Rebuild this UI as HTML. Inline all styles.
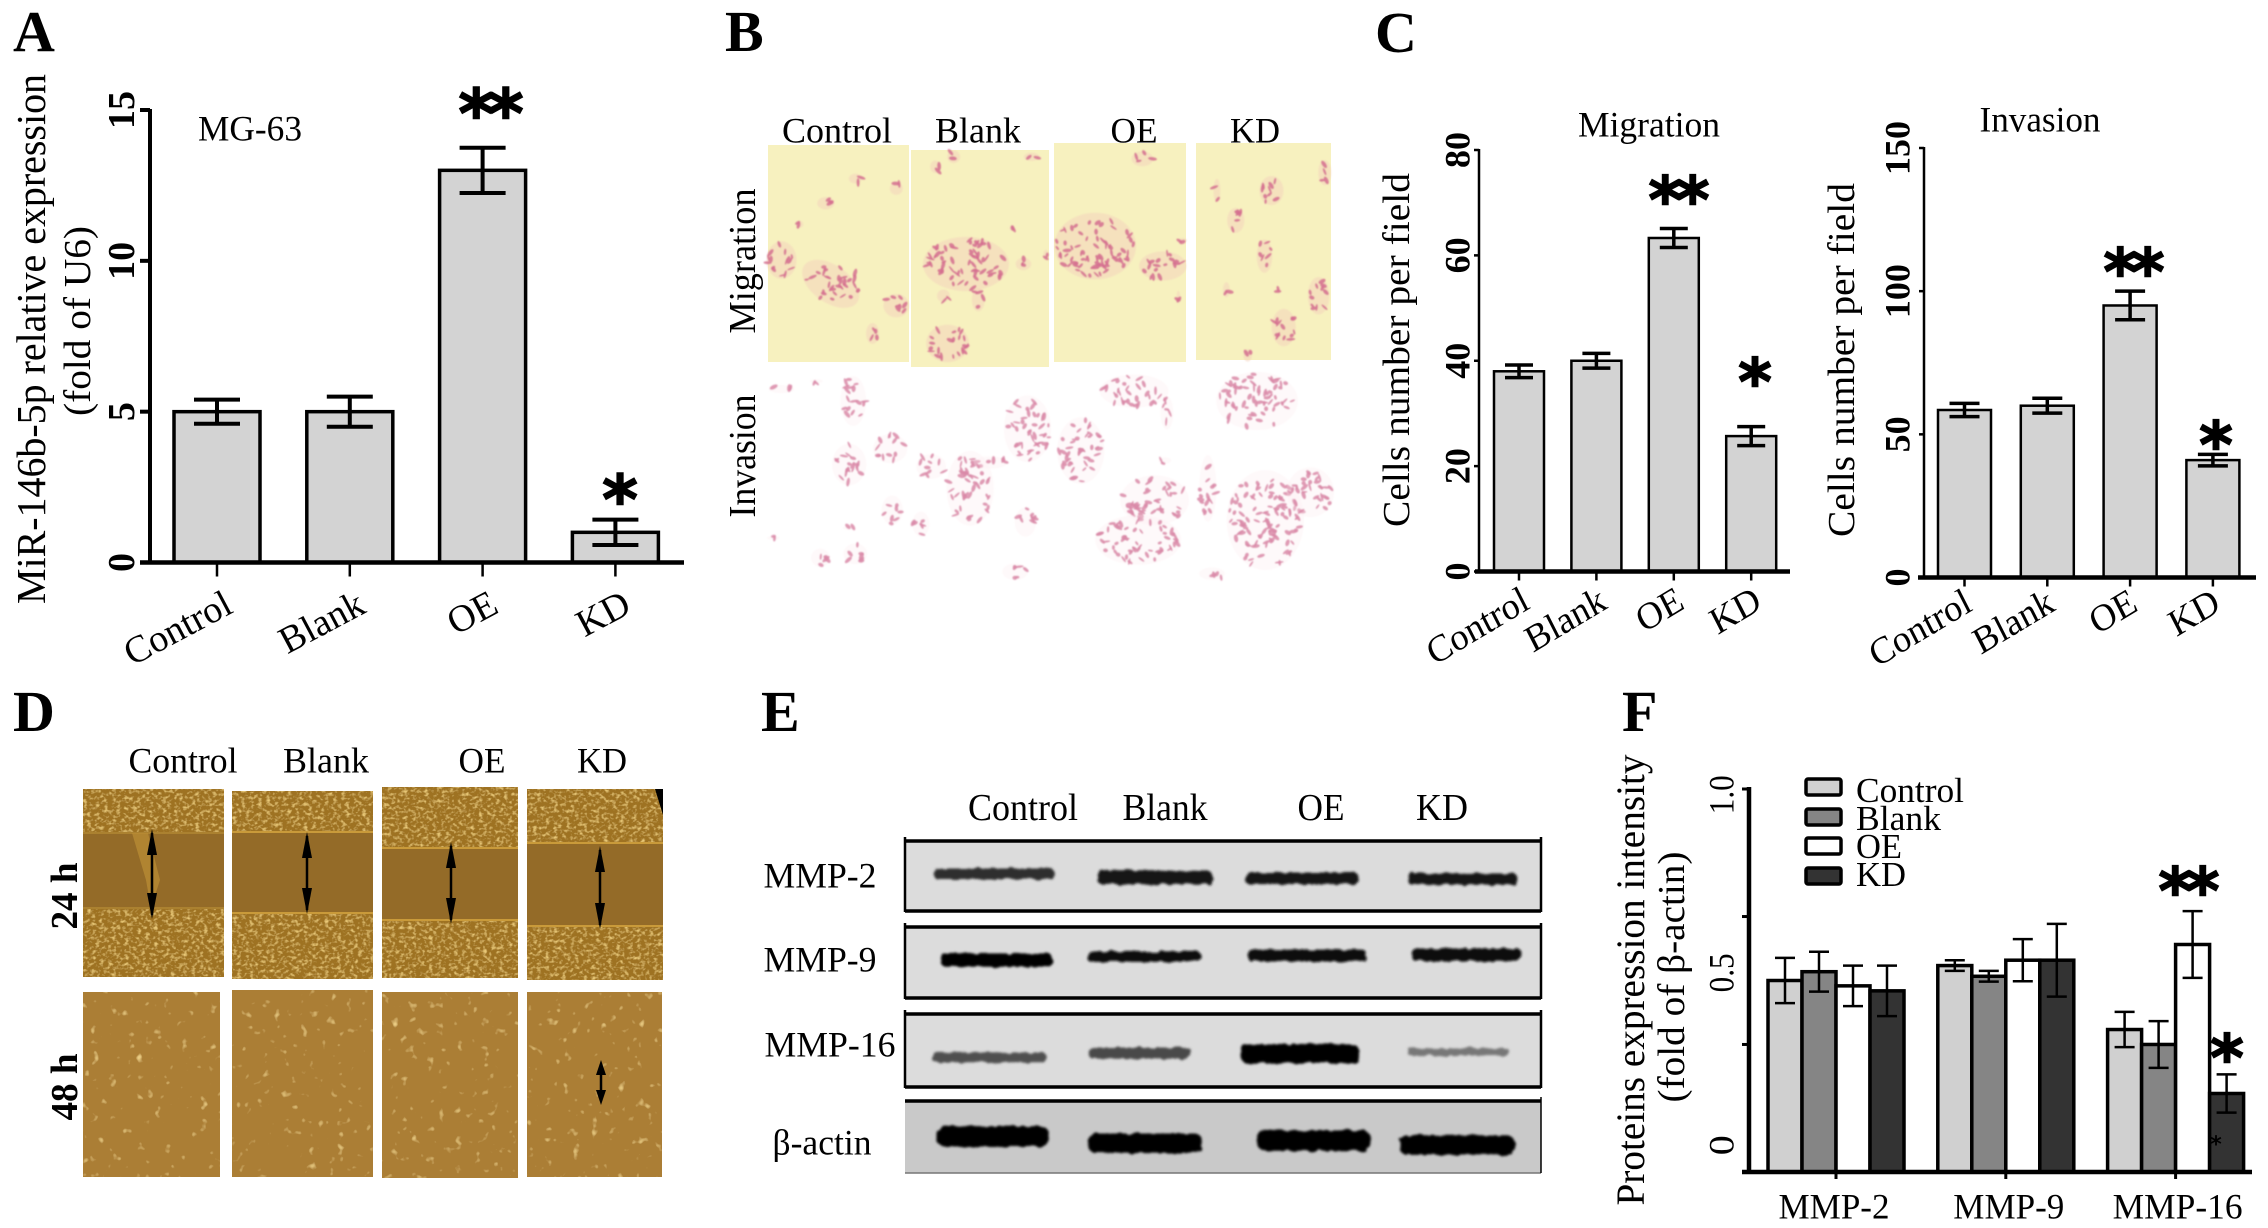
<!DOCTYPE html>
<html lang="en">
<head>
<meta charset="utf-8">
<title>miR-146b-5p figure panels</title>
<style>
html,body{margin:0;padding:0;background:#fff;width:2268px;height:1228px;overflow:hidden}
svg{display:block}
text{font-family:"Liberation Serif","DejaVu Serif",serif;fill:#000}
</style>
</head>
<body>
<svg id="figure" xmlns="http://www.w3.org/2000/svg" width="2268" height="1228" viewBox="0 0 2268 1228">
  <defs>
    <filter id="speckle" x="0" y="0" width="100%" height="100%">
      <feTurbulence type="fractalNoise" baseFrequency="0.24 0.3" numOctaves="2" seed="4" result="n"/>
      <feColorMatrix in="n" type="matrix" values="0 0 0 0 0.82  0 0 0 0 0.58  0 0 0 0 0.18  2.8 0 0 0 -1.35" result="spots"/>
      <feComposite in="spots" in2="SourceGraphic" operator="in" result="clipped"/>
      <feMerge><feMergeNode in="SourceGraphic"/><feMergeNode in="clipped"/></feMerge>
    </filter>
    <filter id="speckle-soft" x="0" y="0" width="100%" height="100%">
      <feTurbulence type="fractalNoise" baseFrequency="0.11" numOctaves="2" seed="9" result="n"/>
      <feColorMatrix in="n" type="matrix" values="0 0 0 0 0.82  0 0 0 0 0.6  0 0 0 0 0.22  4.5 0 0 0 -3" result="spots"/>
      <feComposite in="spots" in2="SourceGraphic" operator="in" result="clipped"/>
      <feMerge><feMergeNode in="SourceGraphic"/><feMergeNode in="clipped"/></feMerge>
    </filter>
    <filter id="band-blur" x="-10%" y="-60%" width="120%" height="220%">
      <feTurbulence type="fractalNoise" baseFrequency="0.12" numOctaves="2" seed="3" result="n"/>
      <feDisplacementMap in="SourceGraphic" in2="n" scale="5" result="d"/>
      <feGaussianBlur in="d" stdDeviation="1.4"/>
    </filter>
    <filter id="cell-blur" x="-20%" y="-20%" width="140%" height="140%"><feGaussianBlur stdDeviation="0.8"/></filter>
  </defs>
</svg>
<script>
/* ---------- chart data ---------- */
const categories = ['Control', 'Blank', 'OE', 'KD'];

const aValues = [5, 5, 13, 1];
const aErrors = [0.4, 0.5, 0.75, 0.42];
const aTicks = [0, 5, 10, 15];

const migrationValues = [38, 40, 63.3, 25.7];
const migrationErrors = [1.2, 1.4, 1.8, 1.8];
const migrationTicks = [0, 20, 40, 60, 80];

const invasionValues = [58.5, 60, 95, 41];
const invasionErrors = [2.3, 2.6, 5, 2];
const invasionTicks = [0, 50, 100, 150];

const proteinGroups = ['MMP-2', 'MMP-9', 'MMP-16'];
const proteinControl = [0.5, 0.539, 0.372];
const proteinBlank = [0.523, 0.511, 0.333];
const proteinOE = [0.486, 0.553, 0.594];
const proteinKD = [0.473, 0.553, 0.205];
const proteinControlErr = [0.059, 0.014, 0.046];
const proteinBlankErr = [0.052, 0.014, 0.061];
const proteinOEErr = [0.053, 0.055, 0.087];
const proteinKDErr = [0.066, 0.095, 0.05];
const proteinTickMarks = [0, 0.333, 0.667, 1];
const proteinTickLabels = ['0', '0.5', '1.0'];
const proteinTickLabelValues = [0.07, 0.52, 0.985];

/* ---------- helpers ---------- */
const NS = 'http://www.w3.org/2000/svg';
const root = document.getElementById('figure');

function mk(tag, attrs, name, parent) {
  const el = document.createElementNS(NS, tag);
  for (const k in attrs) el.setAttribute(k, attrs[k]);
  
  
  (parent || root).appendChild(el);
  return el;
}
function group(name, parent) { return mk('g', {}, name, parent); }

function label(str, cx, cy, fs, name, parent, o) {
  o = o || {};
  const a = {
    transform: 'translate(' + cx + ' ' + cy + ') rotate(' + (o.rot || 0) + ')',
    x: 0, y: (fs * 0.32).toFixed(1),
    'font-size': fs,
    'text-anchor': o.anchor || 'middle'
  };
  if (o.bold) a['font-weight'] = 'bold';
  if (o.skew) a.transform += ' skewX(' + o.skew + ')';
  if (o.len) { a.textLength = o.len; a.lengthAdjust = 'spacingAndGlyphs'; }
  if (o.fill) a.style = 'fill:' + o.fill;
  const t = mk('text', a, name, parent);
  t.textContent = str;
  return t;
}
function stars(str, cx, cy, fs, name, parent) {
  const t = mk('text', {
    x: cx, y: cy + fs * 0.52, 'font-size': fs, 'text-anchor': 'middle', 'font-weight': 'bold',
    stroke: '#000', 'stroke-width': fs > 30 ? 1.6 : 0,
    style: 'font-family:"DejaVu Sans",sans-serif;letter-spacing:-6px'
  }, name, parent);
  t.textContent = str;
}
function line(x1, y1, x2, y2, w, name, parent) {
  return mk('line', { x1, y1, x2, y2, stroke: '#000', 'stroke-width': w }, name, parent);
}
function panelLetter(ch, x, y) {
  const t = mk('text', { x, y, 'font-size': 58, 'font-weight': 'bold' }, 'panel-letter-' + ch.toLowerCase());
  t.textContent = ch;
}

/* ---------- single-series bar chart ---------- */
function barChart(c) {
  const g = group(c.name);
  const yS = v => c.y0 + (c.yTop - c.y0) * v / c.max;
  const xC = i => c.barStart + c.step * i + c.barW / 2;

  c.values.forEach((v, i) => {
    mk('rect', {
      x: xC(i) - c.barW / 2, y: yS(v), width: c.barW, height: c.y0 - yS(v),
      fill: '#d3d3d3', stroke: '#000', 'stroke-width': c.barStroke
    }, 'bar-' + categories[i].toLowerCase(), g);
    const e = c.errors[i];
    line(xC(i), yS(v + e), xC(i), yS(v - e), c.errW, 'error-stem-' + categories[i].toLowerCase(), g);
    line(xC(i) - c.cap, yS(v + e), xC(i) + c.cap, yS(v + e), c.errW, 'error-cap-high-' + categories[i].toLowerCase(), g);
    line(xC(i) - c.cap, yS(v - e), xC(i) + c.cap, yS(v - e), c.errW, 'error-cap-low-' + categories[i].toLowerCase(), g);
    line(xC(i), c.y0, xC(i), c.y0 + c.tickLen + 4, 2.5, 'x-tick-' + categories[i].toLowerCase(), g);
    label(categories[i], xC(i) + c.labDx, c.labY, c.labFs, 'x-label-' + categories[i].toLowerCase(), g, { rot: c.labRot, anchor: 'end', skew: c.labSkew });
  });

  line(c.axisX, c.yTop - 1, c.axisX, c.y0 + 2, c.axisW, 'y-axis', g);
  line(c.baseX1, c.y0, c.baseX2, c.y0, c.baseW, 'x-axis', g);
  c.ticks.forEach(t => {
    line(c.axisX - c.tickLen, yS(t), c.axisX, yS(t), c.axisW, 'y-tick-' + t, g);
    label(String(t), c.tickLabX, yS(t), c.tickFs, 'y-tick-label-' + t, g, { rot: -90, bold: true });
  });
  return { g, yS, xC };
}

/* ---------- Panel A ---------- */
panelLetter('A', 13, 51);
const chartA = barChart({
  name: 'chart-a-mir146b', values: aValues, errors: aErrors, ticks: aTicks, max: 15,
  y0: 562.5, yTop: 110, axisX: 150, axisW: 4, baseX1: 140, baseX2: 684, baseW: 4.5,
  barStart: 174, step: 132.8, barW: 86, barStroke: 3.5, errW: 4, cap: 23, tickLen: 10,
  tickLabX: 122, tickFs: 38, labDx: 12, labY: 601, labFs: 38, labRot: -28, labSkew: 0
});
label('MiR-146b-5p relative expression', 32, 339, 41, 'y-axis-title-a', chartA.g, { rot: -90, len: 530 });
label('(fold of U6)', 78, 321, 38, 'y-axis-subtitle-a', chartA.g, { rot: -90, len: 190 });
label('MG-63', 250, 129, 36, 'cell-line-label', chartA.g, { len: 104 });
stars('**', 488, 102, 68, 'significance-oe-a', chartA.g);
stars('*', 617, 488, 68, 'significance-kd-a', chartA.g);

/* ---------- Panel C ---------- */
panelLetter('C', 1375, 52);
const chartM = barChart({
  name: 'chart-c-migration', values: migrationValues, errors: migrationErrors, ticks: migrationTicks, max: 80,
  y0: 571.5, yTop: 150, axisX: 1479, axisW: 2.5, baseX1: 1475, baseX2: 1790, baseW: 4.5,
  barStart: 1494, step: 77.4, barW: 50, barStroke: 2.5, errW: 3.5, cap: 14, tickLen: 5,
  tickLabX: 1458, tickFs: 36, labDx: 7, labY: 597, labFs: 37, labRot: -31, labSkew: -4
});
label('Migration', 1649, 125, 36, 'chart-title-migration', chartM.g, { len: 142 });
label('Cells number per field', 1397, 350, 38, 'y-axis-title-migration', chartM.g, { rot: -90, len: 354 });
stars('**', 1676, 189, 64, 'significance-oe-migration', chartM.g);
stars('*', 1752, 371, 64, 'significance-kd-migration', chartM.g);

const chartI = barChart({
  name: 'chart-c-invasion', values: invasionValues, errors: invasionErrors, ticks: invasionTicks, max: 150,
  y0: 577.5, yTop: 148, axisX: 1924, axisW: 2.5, baseX1: 1918, baseX2: 2256, baseW: 4.5,
  barStart: 1938, step: 82.8, barW: 53, barStroke: 2.5, errW: 3.5, cap: 15, tickLen: 5,
  tickLabX: 1898, tickFs: 36, labDx: 4, labY: 599, labFs: 37, labRot: -31, labSkew: -4
});
label('Invasion', 2040, 120, 36, 'chart-title-invasion', chartI.g, { len: 121 });
label('Cells number per field', 1842, 360, 38, 'y-axis-title-invasion', chartI.g, { rot: -90, len: 354 });
stars('**', 2131, 261, 64, 'significance-oe-invasion', chartI.g);
stars('*', 2213, 434, 64, 'significance-kd-invasion', chartI.g);

/* ---------- Panel F ---------- */
panelLetter('F', 1622, 731);
(function () {
  const g = group('chart-f-proteins');
  const y0 = 1172, yTop = 789;
  const yS = v => y0 + (yTop - y0) * v;
  const gx = i => 1836 + 169.8 * i;
  const barW = 34;
  const series = [
    { name: 'control', vals: proteinControl, errs: proteinControlErr, fill: '#d0d0d0', label: 'Control' },
    { name: 'blank', vals: proteinBlank, errs: proteinBlankErr, fill: '#858585', label: 'Blank' },
    { name: 'oe', vals: proteinOE, errs: proteinOEErr, fill: '#ffffff', label: 'OE' },
    { name: 'kd', vals: proteinKD, errs: proteinKDErr, fill: '#333333', label: 'KD' }
  ];
  series.forEach((s, si) => {
    s.vals.forEach((v, i) => {
      const x = gx(i) + (si - 2) * barW;
      mk('rect', { x, y: yS(v), width: barW, height: y0 - yS(v), fill: s.fill, stroke: '#000', 'stroke-width': 3.5 },
        'bar-' + proteinGroups[i].toLowerCase() + '-' + s.name, g);
      const e = s.errs[i], cx = x + barW / 2;
      line(cx, yS(v + e), cx, yS(v - e), 2.5, 'error-stem-' + s.name, g);
      line(cx - 10, yS(v + e), cx + 10, yS(v + e), 2.5, 'error-cap-high-' + s.name, g);
      line(cx - 10, yS(v - e), cx + 10, yS(v - e), 2.5, 'error-cap-low-' + s.name, g);
    });
  });
  line(1749, yTop - 2, 1749, y0 + 2, 4.5, 'y-axis', g);
  line(1742, y0, 2252, y0, 4.5, 'x-axis', g);
  proteinTickMarks.forEach(t => line(1742, yS(t), 1749, yS(t), 3, 'y-tick', g));
  proteinTickLabels.forEach((t, i) => label(t, 1722, yS(proteinTickLabelValues[i]), 36, 'y-tick-label-' + t, g, { rot: -90, len: t.length > 1 ? 39 : 20 }));
  proteinGroups.forEach((name, i) => {
    line(gx(i), y0, gx(i), y0 + 7, 3, 'x-tick-' + name.toLowerCase(), g);
    label(name, gx(i) + [-2, 3, 2][i], 1207, 36, 'x-label-' + name.toLowerCase(), g, { len: [111, 111, 130][i] });
  });
  label('Proteins expression intensity', 1631, 980, 40, 'y-axis-title-f', g, { rot: -90, len: 451 });
  label('(fold of β-actin)', 1672, 977, 38, 'y-axis-subtitle-f', g, { rot: -90, len: 251 });
  const lg = group('legend', g);
  series.forEach((s, si) => {
    const ly = [787, 817, 846, 876][si];
    mk('rect', { x: 1806, y: ly - 8, width: 35, height: 16, rx: 2, fill: s.fill, stroke: '#000', 'stroke-width': 3.5 }, 'legend-swatch-' + s.name, lg);
    label(s.label, 1856, [791, 819, 847, 875][si], 35, 'legend-label-' + s.name, lg, { anchor: 'start', len: [108, 85, 46, 50][si] });
  });
  stars('**', 2186, 880, 64, 'significance-oe-f', g);
  stars('*', 2224, 1047, 64, 'significance-kd-f', g);
  stars('*', 2213, 1140, 22, 'stray-asterisk', g);
})();

/* ---------- Panel B: micrographs ---------- */
panelLetter('B', 725, 51);
const migrationFrames = [[768, 145, 141, 217], [911, 150, 138, 217], [1054, 143, 132, 219], [1196, 143, 135, 217]];
const migrationClusters = [
  [150,655,35,45,0],[270,715,75,45,35],[430,770,30,28,0],[372,840,15,25,0],[430,475,15,15,0],[330,450,15,12,0],[258,512,20,15,0],[195,565,8,8,0],
  [600,665,100,65,0],[630,755,15,28,0],[555,865,50,45,0],[740,665,18,15,0],[570,395,15,15,0],[525,420,12,15,0],[545,745,15,15,0],[712,575,6,6,0],[795,640,6,10,0],[760,395,18,10,0],
  [915,620,95,80,0],[1080,670,55,35,0],[1030,400,25,18,0],[1118,745,4,12,0],[1128,605,10,5,0],
  [1212,480,8,28,0],[1345,480,28,35,0],[1258,555,20,30,0],[1328,645,18,40,0],[1235,730,8,18,0],[1460,745,25,45,0],[1375,825,28,45,0],[1475,435,15,30,0],[1362,732,5,8,0],[1287,895,10,15,0]
];
const invasionClusters = [
  [325,1010,30,60,0],[415,1130,40,35,0],[315,1170,40,50,0],[420,1285,25,35,0],[330,1395,28,25,0],[245,1405,22,22,0],[490,1320,20,30,0],[315,1330,15,5,0],
  [745,1315,25,35,0],[720,1440,30,20,0],[515,1175,35,30,0],[610,1230,55,90,0],[750,1080,55,80,0],[660,1165,40,15,0],[880,1135,55,80,0],[1010,985,80,40,0],
  [1090,1040,15,40,0],[1060,1260,80,60,0],[1020,1360,100,60,0],[1310,1010,95,70,0],[1190,1230,20,80,0],[1330,1310,90,120,0],[1440,1240,55,60,0],[1200,1445,30,15,0],[150,980,30,10,0],[235,960,15,5,0],[1085,1160,15,8,0],[130,1355,15,5,0]
];
let seed = 17;
function rnd() { seed = (seed * 16807) % 2147483647; return seed / 2147483647; }
function drawCells(list, g, halo, nuc, haloOp, nucOp) {
  list.forEach(c => {
    const cx = 720 + c[0] * 0.41, cy = c[1] * 0.397, rx = c[2] * 0.41, ry = c[3] * 0.397;
    const rot = c[4];
    if (halo) mk('ellipse', { cx, cy, rx: rx * 1.05, ry: ry * 1.05, fill: halo, opacity: haloOp, transform: 'rotate(' + rot + ' ' + cx + ' ' + cy + ')' }, 'cell-cluster', g);
    const n = Math.max(2, Math.round(rx * ry / 17));
    for (let i = 0; i < n; i++) {
      const a = rnd() * 6.283, r = Math.sqrt(rnd());
      const px = cx + Math.cos(a) * r * rx, py = cy + Math.sin(a) * r * ry;
      mk('ellipse', { cx: px.toFixed(1), cy: py.toFixed(1), rx: (1 + rnd() * 1.1).toFixed(1), ry: (2.2 + rnd() * 2.4).toFixed(1),
        fill: nuc, opacity: nucOp, transform: 'rotate(' + Math.round(rnd() * 180) + ' ' + px.toFixed(1) + ' ' + py.toFixed(1) + ')' }, 'cell', g);
    }
  });
}
(function () {
  const g = group('panel-b-micrographs');
  migrationFrames.forEach((f, i) => {
    mk('rect', { x: f[0], y: f[1], width: f[2], height: f[3], fill: '#f7f1bf' }, 'migration-frame-' + categories[i].toLowerCase(), g);
  });
  const mc = group('migration-cells', g);
  mc.setAttribute('filter', 'url(#cell-blur)');
  drawCells(migrationClusters, mc, '#f4d2bc', '#d5708f', 0.5, 0.85);
  const ic = group('invasion-cells', g);
  ic.setAttribute('filter', 'url(#cell-blur)');
  drawCells(invasionClusters, ic, '#fbeaf0', '#d98aa8', 0.3, 0.85);
  ['Control', 'Blank', 'OE', 'KD'].forEach((s, i) => {
    label(s, [837, 978, 1134, 1255][i], 131, 36, 'panel-b-header-' + s.toLowerCase(), g, { len: [110, 86, 47, 50][i] });
  });
  label('Migration', 743, 261, 38, 'row-label-migration', g, { rot: -90, len: 145 });
  label('Invasion', 743, 456, 38, 'row-label-invasion', g, { rot: -90, len: 123 });
})();

/* ---------- Panel D: wound healing ---------- */
panelLetter('D', 13, 731);
const wound24 = [[83, 789, 141, 188, 833, 908], [232, 791, 141, 188, 832, 913], [382, 787, 136, 191, 848, 920], [527, 789, 136, 191, 843, 926]];
const wound48 = [[83, 992, 137, 185], [232, 990, 141, 187], [382, 992, 136, 186], [527, 992, 135, 185]];
const woundArrows = [[152, 829, 919], [307, 832, 914], [451, 842, 924], [600, 846, 929], [601, 1060, 1105]];
(function () {
  const g = group('panel-d-wound-healing');
  ['Control', 'Blank', 'OE', 'KD'].forEach((s, i) => {
    label(s, [183, 326, 482, 602][i], 761, 36, 'panel-d-header-' + s.toLowerCase(), g, { len: [109, 86, 47, 50][i] });
  });
  wound24.forEach((f, i) => {
    mk('rect', { x: f[0], y: f[1], width: f[2], height: f[3], fill: '#9e7222', filter: 'url(#speckle)' }, 'wound-24h-' + categories[i].toLowerCase(), g);
    mk('rect', { x: f[0], y: f[4], width: f[2], height: f[5] - f[4], fill: '#946b28' }, 'wound-gap-24h-' + categories[i].toLowerCase(), g);
    line(f[0], f[4], f[0] + f[2], f[4], 2, 'wound-edge-top', g).setAttribute('stroke', i === 0 ? '#ab8130' : '#c99a3a');
    line(f[0], f[5], f[0] + f[2], f[5], 2, 'wound-edge-bottom', g).setAttribute('stroke', i === 0 ? '#ab8130' : '#c99a3a');
  });
  mk('polygon', { points: '132,833 148,833 160,880 151,908 146,880', fill: '#b98c34', opacity: 0.75 }, 'cell-streak-control', g);
  wound48.forEach((f, i) => {
    mk('rect', { x: f[0], y: f[1], width: f[2], height: f[3], fill: '#ab7e35', filter: 'url(#speckle-soft)' }, 'wound-48h-' + categories[i].toLowerCase(), g);
  });
  mk('polygon', { points: '655,789 663,789 663,815', fill: '#000' }, 'frame-corner-shadow', g);
  woundArrows.forEach(a => {
    const x = a[0], y1 = a[1], y2 = a[2];
    const h = y2 - y1 > 60 ? 26 : 15;
    const ag = group('double-arrow', g);
    line(x, y1 + 4, x, y2 - 4, 2.5, 'arrow-shaft', ag);
    mk('polygon', { points: x + ',' + y1 + ' ' + (x - 5) + ',' + (y1 + h) + ' ' + (x + 5) + ',' + (y1 + h), fill: '#000' }, 'arrow-head-up', ag);
    mk('polygon', { points: x + ',' + y2 + ' ' + (x - 5) + ',' + (y2 - h) + ' ' + (x + 5) + ',' + (y2 - h), fill: '#000' }, 'arrow-head-down', ag);
  });
  label('24 h', 65, 896, 38, 'row-label-24h', g, { rot: -90, bold: true, len: 67 });
  label('48 h', 65, 1087, 38, 'row-label-48h', g, { rot: -90, bold: true, len: 67 });
})();

/* ---------- Panel E: western blots ---------- */
panelLetter('E', 761, 731);
const blotRows = [
  { name: 'MMP-2', y: 841, h: 70, bg: '#dcdcdc', labX: 820, labY: 876, labLen: 113 },
  { name: 'MMP-9', y: 927, h: 71, bg: '#dcdcdc', labX: 820, labY: 960, labLen: 113 },
  { name: 'MMP-16', y: 1014, h: 73, bg: '#dcdcdc', labX: 830, labY: 1045, labLen: 131 },
  { name: 'β-actin', y: 1101, h: 72, bg: '#c9c9c9', labX: 822, labY: 1143, labLen: 99 }
];
const blotBands = [
  [[390,610,552,30,'#2e2e2e'],[688,898,562,40,'#161616'],[958,1165,565,33,'#141414'],[1255,1455,567,32,'#181818']],
  [[403,607,798,38,'#050505'],[670,877,788,30,'#0a0a0a'],[963,1180,785,34,'#0a0a0a'],[1262,1463,783,36,'#101010']],
  [[387,595,1075,28,'#505050'],[673,860,1063,32,'#4a4a4a'],[950,1167,1065,54,'#050505'],[1255,1440,1060,20,'#777777']],
  [[395,600,1300,58,'#000'],[672,880,1320,56,'#000'],[980,1187,1312,58,'#000'],[1240,1450,1325,56,'#000']]
];
(function () {
  const g = group('panel-e-western-blot');
  ['Control', 'Blank', 'OE', 'KD'].forEach((s, i) => {
    label(s, [1023, 1165, 1321, 1442][i], 808, 38, 'panel-e-header-' + s.toLowerCase(), g, { len: [110, 85, 47, 52][i] });
  });
  blotRows.forEach((r, ri) => {
    mk('rect', { x: 905, y: r.y, width: 636, height: r.h, fill: r.bg }, 'blot-background-' + r.name.toLowerCase(), g);
    line(905, r.y, 1541, r.y, 3.5, 'blot-top-border', g);
    if (ri < 3) {
      line(905, r.y + r.h, 1541, r.y + r.h, 3.5, 'blot-bottom-border', g);
      line(905, r.y - 4, 905, r.y + r.h + 1, 2.5, 'blot-left-border', g);
      line(1541, r.y - 4, 1541, r.y + r.h + 1, 2.5, 'blot-right-border', g);
    } else {
      line(905, r.y + r.h, 1541, r.y + r.h, 1.5, 'blot-bottom-border', g).setAttribute('stroke', '#777');
      line(1541, r.y - 4, 1541, r.y + r.h, 1.5, 'blot-right-border', g);
    }
    blotBands[ri].forEach((b, bi) => {
      const x1 = 720 + b[0] * 0.548, x2 = 720 + b[1] * 0.548, cy = 680 + b[2] * 0.351, h = b[3] * 0.351;
      mk('rect', { x: x1, y: cy - h / 2, width: x2 - x1, height: h, rx: h / 2.5, fill: b[4], filter: 'url(#band-blur)' },
        'band-' + r.name.toLowerCase() + '-' + categories[bi].toLowerCase(), g);
    });
    label(r.name, r.labX, r.labY, 36, 'blot-label-' + r.name.toLowerCase(), g, { len: r.labLen });
  });
})();
</script>
</body>
</html>
